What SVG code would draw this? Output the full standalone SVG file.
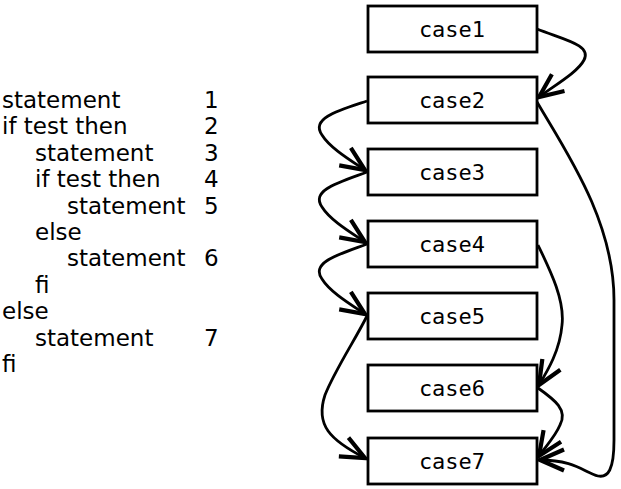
<svg xmlns="http://www.w3.org/2000/svg" width="621" height="489" viewBox="0 0 621 489">
<defs>
<marker id="arr" markerUnits="userSpaceOnUse" markerWidth="30" markerHeight="30" refX="0" refY="0" viewBox="-16 -10 20 20" orient="auto" overflow="visible">
<path d="M-16,-7 L0,0 L-16,7" fill="none" stroke="#000" stroke-width="2.8" stroke-linejoin="miter"/>
</marker>
<style>
.box{fill:#fff;stroke:#000;stroke-width:2.8}
.lbl{font-family:"DejaVu Sans Mono","Liberation Mono",monospace;font-size:22px;fill:#000;text-anchor:middle}
.code{font-family:"DejaVu Sans","Liberation Sans",sans-serif;font-size:23px;fill:#000}
.edge{fill:none;stroke:#000;stroke-width:2.8;marker-end:url(#arr)}
</style>
</defs>
<rect width="621" height="489" fill="#fff"/>
<g id="code">
<text class="code" x="2" y="108">statement</text><text class="code" x="204" y="108">1</text>
<text class="code" x="2" y="134">if test then</text><text class="code" x="204" y="134">2</text>
<text class="code" x="35" y="161">statement</text><text class="code" x="204" y="161">3</text>
<text class="code" x="35" y="187">if test then</text><text class="code" x="204" y="187">4</text>
<text class="code" x="67" y="214">statement</text><text class="code" x="204" y="214">5</text>
<text class="code" x="35" y="240">else</text>
<text class="code" x="67" y="266">statement</text><text class="code" x="204" y="266">6</text>
<text class="code" x="35" y="293">fi</text>
<text class="code" x="2" y="319">else</text>
<text class="code" x="35" y="346">statement</text><text class="code" x="204" y="346">7</text>
<text class="code" x="2" y="372">fi</text>
</g>
<g id="connectors">
<path class="edge" d="M537,29 C565,40 592,45 584,60 C578,72 555,85 539,97"/>
<path class="edge" d="M537,102 C565,150 614,220 614,300 L614,440 C614,470 608,478 598,476 C585,473 575,460 540,460"/>
<path class="edge" d="M367,101 C340,110 310,118 322,135 C330,148 350,160 365,170"/>
<path class="edge" d="M367,172 C340,182 310,190 322,207 C330,220 350,232 365,242"/>
<path class="edge" d="M367,244 C340,254 310,262 322,279 C330,292 350,304 365,314"/>
<path class="edge" d="M367,316 C355,340 335,370 325,395 C315,425 330,440 365,458"/>
<path class="edge" d="M538,245 C550,270 565,300 562,325 C560,350 548,370 539,385"/>
<path class="edge" d="M538,388 C555,400 568,410 560,425 C555,437 545,447 539,456"/>
</g>
<g id="case1"><rect class="box" x="368" y="6" width="169" height="46"/><text class="lbl" x="452" y="37">case1</text></g>
<g id="case2"><rect class="box" x="368" y="77" width="169" height="46"/><text class="lbl" x="452" y="108">case2</text></g>
<g id="case3"><rect class="box" x="368" y="149" width="169" height="46"/><text class="lbl" x="452" y="180">case3</text></g>
<g id="case4"><rect class="box" x="368" y="221" width="169" height="46"/><text class="lbl" x="452" y="252">case4</text></g>
<g id="case5"><rect class="box" x="368" y="293" width="169" height="46"/><text class="lbl" x="452" y="324">case5</text></g>
<g id="case6"><rect class="box" x="368" y="365" width="169" height="46"/><text class="lbl" x="452" y="396">case6</text></g>
<g id="case7"><rect class="box" x="368" y="438" width="169" height="46"/><text class="lbl" x="452" y="469">case7</text></g>
</svg>
